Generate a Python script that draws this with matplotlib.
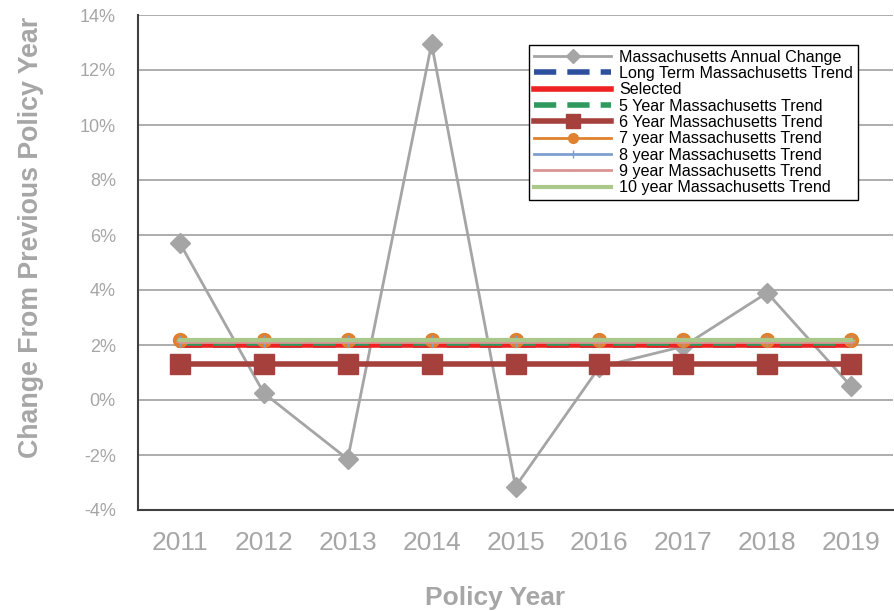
import numpy as np
import matplotlib.pyplot as plt
from matplotlib.ticker import FuncFormatter

plt.rcParams["font.family"] = ["Liberation Sans", "DejaVu Sans"]

years = ["2011", "2012", "2013", "2014", "2015", "2016", "2017", "2018", "2019"]
annual_change = [5.7, 0.25, -2.15, 12.95, -3.15, 1.2, 1.95, 3.9, 0.5]
long_term = 2.0
selected = 2.0
trend_5 = 2.08
trend_6 = 1.3
trend_7 = 2.18
trend_8 = 2.15
trend_9 = 2.12
trend_10 = 2.2

gray_text = "#A6A6A6"
x = np.arange(len(years))
n = len(years)

fig = plt.figure(figsize=(8.94, 6.11), dpi=100)
ax = fig.add_axes([138 / 894, 1 - 510 / 611, (893 - 138) / 894, 495 / 611])

ax.plot(x, annual_change, color="#A5A5A5", lw=2, marker="D", ms=10,
        label="Massachusetts Annual Change", zorder=3)
ax.plot(x, [long_term] * n, color="#2F4F9F", lw=4, dashes=(4, 2),
        label="Long Term Massachusetts Trend", zorder=4)
ax.plot(x, [selected] * n, color="#EE2222", lw=4, label="Selected", zorder=5)
ax.plot(x, [trend_5] * n, color="#2E9A5E", lw=4, dashes=(4, 2),
        label="5 Year Massachusetts Trend", zorder=5)
ax.plot(x, [trend_6] * n, color="#A5403D", lw=4, marker="s", ms=14,
        label="6 Year Massachusetts Trend", zorder=6)
ax.plot(x, [trend_7] * n, color="#E0812F", lw=2, marker="o", ms=10,
        label="7 year Massachusetts Trend", zorder=6)
ax.plot(x, [trend_8] * n, color="#7F9FD0", lw=2, marker="|", ms=8,
        label="8 year Massachusetts Trend", zorder=7)
ax.plot(x, [trend_9] * n, color="#D99594", lw=2, marker="_", ms=6,
        label="9 year Massachusetts Trend", zorder=7)
ax.plot(x, [trend_10] * n, color="#A9C88A", lw=3, marker="_", ms=6,
        label="10 year Massachusetts Trend", zorder=8)

ax.set_xlim(-0.5, n - 0.5)
ax.set_ylim(-4, 14)
ax.set_yticks(np.arange(-4, 15, 2))
ax.yaxis.set_major_formatter(FuncFormatter(lambda v, p: f"{v:.0f}%"))
ax.set_xticks(x)
ax.set_xticklabels(years)
ax.tick_params(axis="x", length=0, labelsize=19, colors=gray_text, pad=15)
ax.tick_params(axis="y", length=0, labelsize=13, colors=gray_text, pad=16)
ax.grid(axis="y", color="#A0A0A0", lw=1.2)
for side in ["top", "right"]:
    ax.spines[side].set_visible(False)
ax.spines["left"].set_color("#404040")
ax.spines["left"].set_linewidth(1.5)
ax.spines["bottom"].set_color("#404040")
ax.spines["bottom"].set_linewidth(1.5)

ax.set_xlabel("Policy Year", fontsize=19, fontweight="bold", color=gray_text)
ax.xaxis.set_label_coords(0.473, -0.153)
ax.set_ylabel("Change From Previous Policy Year", fontsize=19.3, fontweight="bold",
              color=gray_text)
ax.yaxis.set_label_coords(-0.125, 0.55)

leg = ax.legend(loc="upper left", bbox_to_anchor=(391 / 755, 1 - 30 / 495), fontsize=11.6,
                frameon=True, fancybox=False, edgecolor="black", framealpha=1,
                borderpad=0.3, labelspacing=0.08, handlelength=4.8, handletextpad=0.5,
                borderaxespad=0, markerscale=0.7)
leg.get_frame().set_linewidth(1)

fig.savefig("out.png", dpi=100)
